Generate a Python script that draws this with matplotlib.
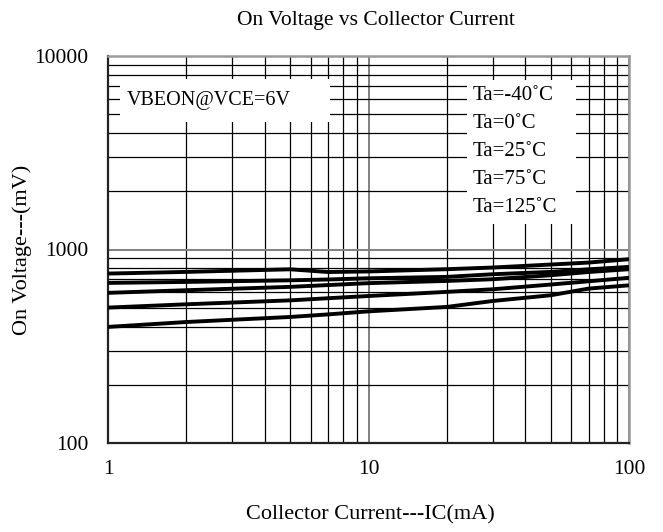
import matplotlib
matplotlib.use("Agg")
import matplotlib.pyplot as plt
from matplotlib.ticker import LogLocator, FixedLocator, NullFormatter
from matplotlib.patches import Rectangle

plt.rcParams['font.family'] = ['Liberation Serif', 'DejaVu Serif']

# Data
ic_ma = [1, 2, 5, 7, 10, 20, 30, 50, 70, 100]
v_m40 = [751, 766, 790, 765, 770, 791, 807, 836, 856, 891]
v_0 = [672, 680, 693, 700, 710, 722, 745, 766, 790, 813]
v_25 = [597, 616, 641, 655, 670, 688, 702, 736, 765, 791]
v_75 = [501, 521, 546, 560, 575, 604, 623, 659, 685, 714]
v_125 = [398, 422, 448, 462, 479, 505, 542, 580, 628, 653]
series = [v_m40, v_0, v_25, v_75, v_125]
labels = ["Ta=-40˚C", "Ta=0˚C", "Ta=25˚C", "Ta=75˚C", "Ta=125˚C"]
xticks = [1, 10, 100]
yticks = [100, 1000, 10000]

fig = plt.figure(figsize=(6.63, 5.32), dpi=100)
ax = fig.add_axes([108/663, 1-443/532, (629-108)/663, (443-56)/532])
ax.set_xscale('log')
ax.set_yscale('log')
ax.set_xlim(1, 100)
ax.set_ylim(100, 10000)

for s in series:
    ax.plot(ic_ma, s, color='black', lw=2.8, solid_capstyle='butt', zorder=4)

ax.xaxis.set_major_locator(FixedLocator(xticks))
ax.yaxis.set_major_locator(FixedLocator(yticks))
ax.set_xticklabels([str(t) for t in xticks])
ax.set_yticklabels([str(t) for t in yticks])
ax.xaxis.set_minor_locator(LogLocator(base=10, subs=range(2, 10)))
ax.yaxis.set_minor_locator(LogLocator(base=10, subs=range(2, 10)))
ax.xaxis.set_minor_formatter(NullFormatter())
ax.yaxis.set_minor_formatter(NullFormatter())
ax.tick_params(which='both', length=0)
ax.tick_params(axis='x', pad=12, labelsize=15.5)
ax.tick_params(axis='y', pad=14, labelsize=15.5)

ax.grid(which='major', color='#808080', lw=1.4, zorder=1)
ax.grid(which='minor', color='black', lw=0.9, zorder=1)
ax.set_axisbelow(True)

for side in ['top', 'right']:
    ax.spines[side].set_color('#999999')
    ax.spines[side].set_linewidth(1.8)
for side in ['left', 'bottom']:
    ax.spines[side].set_color('#222222')
    ax.spines[side].set_linewidth(1.6)

# white boxes covering the grid behind annotation and legend
ax.add_patch(Rectangle((120/663, 1-122/532), 210/663, 43/532, transform=fig.transFigure,
                       facecolor='white', edgecolor='none', zorder=2))
ax.text(127/663, 1-101/532, "VBEON@VCE=6V", transform=fig.transFigure, fontsize=14.5,
        va='center', ha='left', zorder=3)

ax.add_patch(Rectangle((467/663, 1-224/532), 109/663, 144/532, transform=fig.transFigure,
                       facecolor='white', edgecolor='none', zorder=2))
for i, lab in enumerate(labels):
    ax.text(473/663, 1-(95 + 28*i)/532, lab, transform=fig.transFigure, fontsize=15,
            va='center', ha='left', zorder=3)

fig.text(376/663, 1-20/532, "On Voltage vs Collector Current", ha='center',
         va='center', fontsize=15.5)
fig.text(370/663, 1-515/532, "Collector Current---IC(mA)", ha='center',
         va='center', fontsize=16)
fig.text(22/663, 1-250/532, "On Voltage---(mV)", ha='center', va='center',
         rotation=90, fontsize=16)

fig.savefig("out.png", dpi=100)
